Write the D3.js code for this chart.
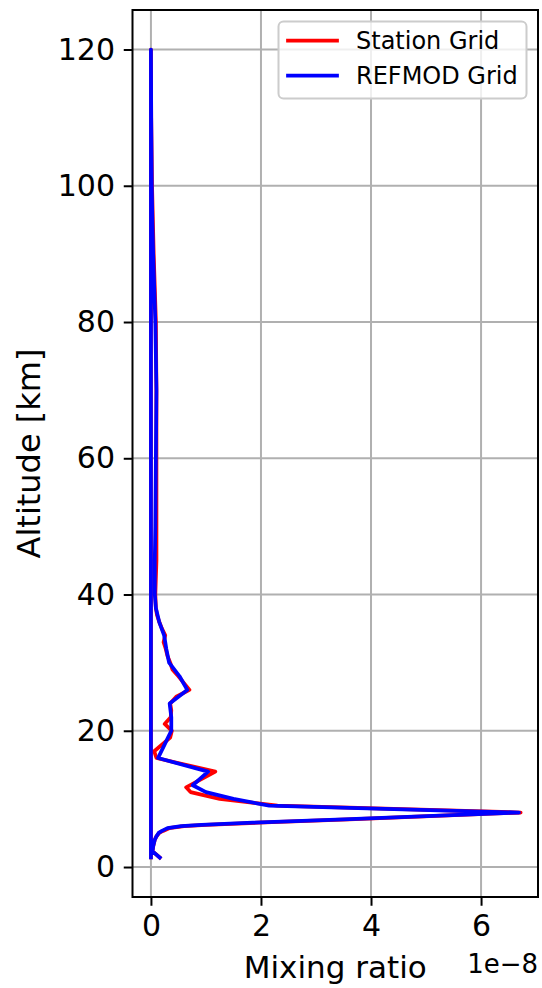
<!DOCTYPE html>
<html>
<head>
<meta charset="utf-8">
<script src="https://cdn.jsdelivr.net/npm/d3@7"></script>
<style>
  body { margin: 0; background: #fff; }
  text { font-family: "DejaVu Sans", sans-serif; fill: #000; }
</style>
</head>
<body>
<svg id="svg"></svg>
<script>
// mixing ratio values in units of 1e-8, altitude in km (in path order)
var stationAlt = [1.4, 2.3, 3, 4, 4.5, 5, 5.3, 5.7, 6, 6.2, 6.5, 7, 8, 9, 10, 11, 11.7, 14, 16, 17, 19, 20, 21, 22, 23, 24, 25, 26, 27, 28, 29, 30, 31, 32, 33, 34, 35, 36, 37, 38, 40, 45, 50, 60, 70, 80, 90, 100, 110, 120, 1.4];
var stationRatio = [0.16, 0.03, 0.04, 0.07, 0.1, 0.15, 0.22, 0.33, 0.6, 1.0, 1.95, 3.6, 6.72, 2.3, 1.25, 0.72, 0.64, 1.17, 0.1, 0.06, 0.35, 0.38, 0.25, 0.36, 0.37, 0.35, 0.46, 0.7, 0.6, 0.5, 0.39, 0.35, 0.3, 0.27, 0.23, 0.26, 0.2, 0.15, 0.11, 0.09, 0.08, 0.1, 0.1, 0.1, 0.1, 0.09, 0.05, 0.02, 0.005, 0, 0];

var refmodAlt = [1.4, 2.3, 3, 4, 4.5, 5, 5.3, 5.7, 6, 6.2, 6.5, 7, 8, 9, 10, 11, 12, 14, 16, 18, 20, 22, 24, 26, 28, 30, 32, 34, 36, 38, 40, 45, 50, 60, 70, 80, 85, 90, 95, 100, 110, 120, 1.4];
var refmodRatio = [0.16, 0.03, 0.04, 0.07, 0.1, 0.14, 0.2, 0.3, 0.55, 0.92, 1.85, 3.5, 6.69, 2.15, 1.5, 1.0, 0.76, 1.04, 0.13, 0.25, 0.37, 0.37, 0.34, 0.66, 0.52, 0.33, 0.28, 0.24, 0.15, 0.09, 0.07, 0.07, 0.08, 0.09, 0.1, 0.08, 0.06, 0.04, 0.025, 0.015, 0.005, 0, 0];

var seriesNames = ['Station Grid', 'REFMOD Grid'];
var seriesColors = ['#ff0000', '#0000ff'];
var xTicks = [0, 2, 4, 6];
var yTicks = [0, 20, 40, 60, 80, 100, 120];

var width = 542, height = 988;
var pLeft = 132.5, pRight = 538, pTop = 10, pBottom = 897;

var svg = d3.select('#svg').attr('width', width).attr('height', height);

var x = d3.scaleLinear().domain([-0.335, 7.035]).range([pLeft, pRight]);
var y = d3.scaleLinear().domain([-4.4, 125.8]).range([pBottom, pTop]);

// grid
svg.append('g').selectAll('line').data(xTicks).enter().append('line')
  .attr('x1', function (d) { return x(d); }).attr('x2', function (d) { return x(d); })
  .attr('y1', pTop).attr('y2', pBottom)
  .attr('stroke', '#b0b0b0').attr('stroke-width', 2);
svg.append('g').selectAll('line').data(yTicks).enter().append('line')
  .attr('y1', function (d) { return y(d); }).attr('y2', function (d) { return y(d); })
  .attr('x1', pLeft).attr('x2', pRight)
  .attr('stroke', '#b0b0b0').attr('stroke-width', 2);

// lines
var series = [
  { alt: stationAlt, ratio: stationRatio },
  { alt: refmodAlt, ratio: refmodRatio }
];
var line = d3.line()
  .x(function (d) { return x(d[1]); })
  .y(function (d) { return y(d[0]); });

series.forEach(function (s, i) {
  var pts = s.alt.map(function (a, j) { return [a, s.ratio[j]]; });
  svg.append('path')
    .attr('d', line(pts))
    .attr('fill', 'none')
    .attr('stroke', seriesColors[i])
    .attr('stroke-width', 3.75)
    .attr('stroke-linejoin', 'round')
    .attr('stroke-linecap', 'square');
});

// axes
var xAxis = svg.append('g')
  .attr('transform', 'translate(0,' + pBottom + ')')
  .call(d3.axisBottom(x).tickValues(xTicks).tickSize(8.75).tickPadding(8.75).tickFormat(d3.format('d')));
var yAxis = svg.append('g')
  .attr('transform', 'translate(' + pLeft + ',0)')
  .call(d3.axisLeft(y).tickValues(yTicks).tickSize(8.75).tickPadding(8.75).tickFormat(d3.format('d')));

[xAxis, yAxis].forEach(function (ax) {
  ax.select('.domain').remove();
  ax.selectAll('line').attr('stroke', '#000').attr('stroke-width', 2);
  ax.selectAll('text').style('font-family', '"DejaVu Sans", sans-serif').style('font-size', '30px').attr('fill', '#000');
});

// frame
svg.append('rect')
  .attr('x', pLeft).attr('y', pTop)
  .attr('width', pRight - pLeft).attr('height', pBottom - pTop)
  .attr('fill', 'none').attr('stroke', '#000').attr('stroke-width', 2);

// labels
svg.append('text')
  .attr('x', (pLeft + pRight) / 2).attr('y', 978)
  .attr('text-anchor', 'middle')
  .style('font-size', '31px')
  .text('Mixing ratio');

svg.append('text')
  .attr('x', pRight).attr('y', 973)
  .attr('text-anchor', 'end')
  .style('font-size', '26px')
  .text('1e\u22128');

svg.append('text')
  .attr('transform', 'translate(40,' + (pTop + pBottom) / 2 + ') rotate(-90)')
  .attr('text-anchor', 'middle')
  .style('font-size', '32px')
  .text('Altitude [km]');

// legend
var legend = svg.append('g');
legend.append('rect')
  .attr('x', 278.5).attr('y', 21.5)
  .attr('width', 248).attr('height', 77)
  .attr('rx', 5)
  .attr('fill', '#fff').attr('fill-opacity', 0.8)
  .attr('stroke', '#cccccc').attr('stroke-width', 2);

seriesNames.forEach(function (name, i) {
  var ly = 40.5 + i * 35;
  legend.append('line')
    .attr('x1', 288).attr('x2', 337)
    .attr('y1', ly).attr('y2', ly)
    .attr('stroke', seriesColors[i]).attr('stroke-width', 3.75)
    .attr('stroke-linecap', 'square');
  legend.append('text')
    .attr('x', 356).attr('y', ly)
    .attr('dy', '0.36em')
    .style('font-size', '24px')
    .text(name);
});
</script>
</body>
</html>
